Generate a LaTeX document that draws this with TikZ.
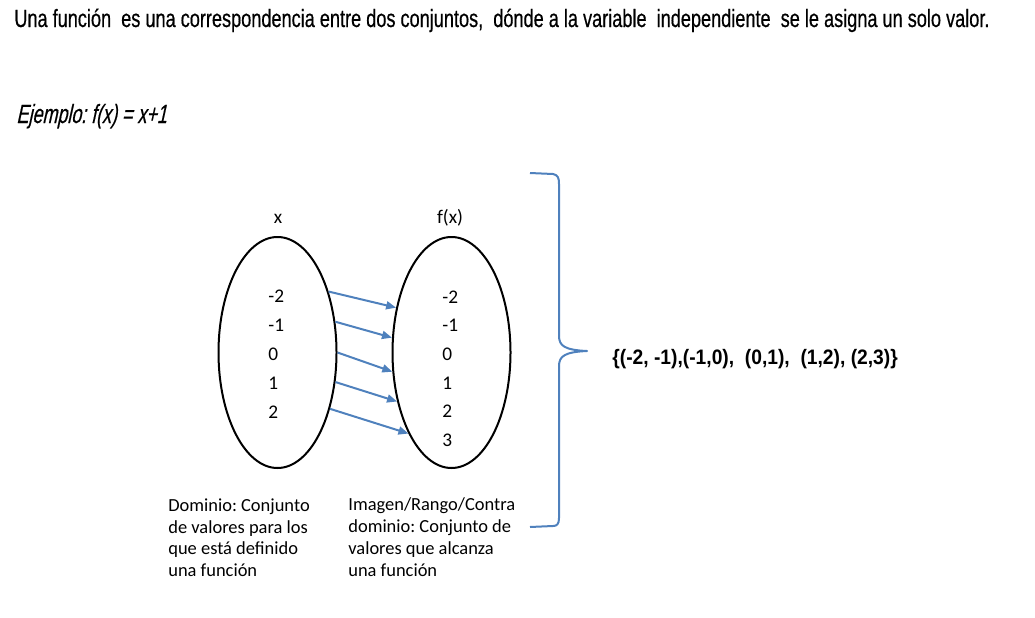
\documentclass[tikz,border=0pt]{standalone}
\usepackage{fontspec}
\setmainfont{Carlito}
\newfontfamily\agency[FakeStretch=0.727,FakeBold=0.5]{Liberation Sans}
\newfontfamily\agencyit[FakeStretch=0.68,FakeSlant=0.22,FakeBold=0.4]{Liberation Sans}
\newfontfamily\agencybf[FakeStretch=0.92]{Liberation Sans}
\usepackage{xcolor}
\definecolor{arrblue}{HTML}{4F81BD}
\usetikzlibrary{arrows.meta,shapes.geometric}
\frenchspacing
\tikzset{
  >={Triangle[length=2mm,width=1.6mm]},
  setbox/.style={draw=black,ellipse,line width=0.4mm,minimum width=23.6mm,minimum height=46.2mm,inner sep=0pt},
  val/.style={font=\fontsize{11}{13}\selectfont,anchor=west,inner sep=0pt},
  head/.style={font=\fontsize{11}{13}\selectfont,anchor=base,inner sep=0pt},
  maparr/.style={->,draw=arrblue,line width=0.4mm},
  note/.style={font=\fontsize{10.5}{12.5}\selectfont,align=left,anchor=north west,inner sep=0pt},
  title/.style={anchor=base west,inner sep=0pt},
  brace/.style={draw=arrblue,line width=0.4mm,line join=round},
}
\begin{document}
\begin{tikzpicture}[x=0.2mm,y=-0.2mm]
\useasboundingbox (0,0) rectangle (1035,617);
\node[title,font=\agency\fontsize{14.2}{16}\selectfont] (intro) at (14,27)
  {Una función \ es una correspondencia entre dos conjuntos, \ dónde a la variable \ independiente \ se le asigna un solo valor.};
\node[title,font=\agencyit\fontsize{15}{17}\selectfont] (ej) at (16,123) {Ejemplo: f(x) = x+1};
% the two sets
\node[setbox] (lset) at (277.5,352.5) {};
\node[setbox] (rset) at (451.5,352.5) {};
\node[head] (lx) at (278,223) {x};
\node[head] (fx) at (450,223) {f(x)};
\foreach \v [count=\i] in {-2,-1,0,1,2}
  \node[val] (lv\i) at (268,{296+29*(\i-1)}) {\v};
\foreach \v [count=\i] in {-2,-1,0,1,2,3}
  \node[val] (rv\i) at (442,{297+28.6*(\i-1)}) {\v};
% x -> x+1
\draw[maparr] (lset.50.6) -- (rset.141.5);
\draw[maparr] (lset.28) -- (rset.166);
\draw[maparr] (lset.0) -- (rset.198.4);
\draw[maparr] (lset.-27) -- (rset.222);
\draw[maparr] (lset.-47.5) -- (rset.242.5);
\node[note] (dom) at (168,498) {Dominio: Conjunto\\de valores para los\\que está definido\\una función};
\node[note] (img) at (348,497) {Imagen/Rango/Contra\\dominio: Conjunto de\\valores que alcanza\\una función};
% brace and pairs
\coordinate (btop) at (530,173);
\coordinate (bbot) at (530,527);
\node[title,font=\agencybf\bfseries\fontsize{11.9}{14}\selectfont] (pairs) at (612,364) {\{(-2, -1),(-1,0), \ (0,1), \ (1,2), (2,3)\}};
\draw[brace] (btop) -- ++(23,1) .. controls (558,175) and (559,178) .. (559,184)
  -- (559,336) .. controls (559,346) and (565,350) .. (587,351)
  .. controls (565,352) and (559,356) .. (559,366)
  -- (559,518) .. controls (559,524) and (557,526) .. (553,526) -- (bbot);
\end{tikzpicture}
\end{document}
